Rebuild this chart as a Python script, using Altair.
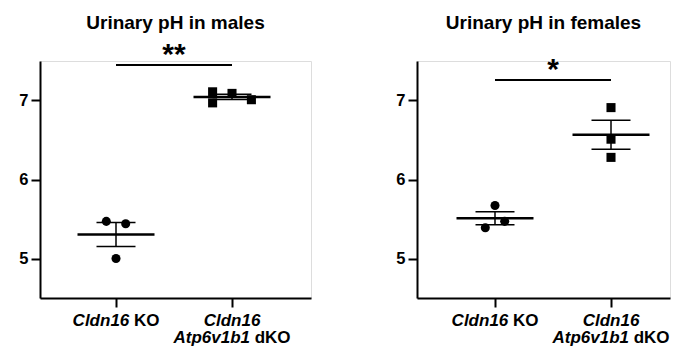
import altair as alt
import pandas as pd

FONT = "Liberation Sans, Arial, Helvetica, sans-serif"

groups = ["Cldn16 KO", "Cldn16 Atp6v1b1 dKO"]
group_pos = [1, 2]

male_ko = [5.47, 5.44, 5.00]
male_ko_slot = [-1, 1, 0]
male_dko = [7.11, 6.97, 7.09, 7.01]
male_dko_slot = [-2, -2, 0, 2]

female_ko = [5.39, 5.67, 5.47]
female_ko_slot = [-1, 0, 1]
female_dko = [6.91, 6.51, 6.28]
female_dko_slot = [0, 0, 0]

titles = ["Urinary pH in males", "Urinary pH in females"]
sig_labels = ["**", "*"]
sig_y = [7.45, 7.26]
y_ticks = [5, 6, 7]
y_domain = [4.5, 7.5]

# x-axis label pieces: (group position, line, text, italic, align, dx)
label_pieces = [
    (1, 1, "Cldn16", True, "right", 13.3),
    (1, 1, "KO", False, "left", 18),
    (2, 1, "Cldn16", True, "center", 0),
    (2, 2, "Atp6v1b1", True, "right", 18),
    (2, 2, "dKO", False, "left", 22.7),
]

PLOT_H = 237
SLOT = 0.0836


def panel(title, ko, ko_slot, dko, dko_slot, sig, sigy, width, xdom, title_offset):
    pts = pd.DataFrame({
        "pos": [group_pos[0]] * len(ko) + [group_pos[1]] * len(dko),
        "group": [groups[0]] * len(ko) + [groups[1]] * len(dko),
        "pH": ko + dko,
        "slot": ko_slot + dko_slot,
    })
    x_scale = alt.Scale(domain=xdom, nice=False, zero=False)
    y_scale = alt.Scale(domain=y_domain, nice=False, zero=False)
    x_axis = alt.Axis(values=group_pos, labels=False, tickSize=9, tickWidth=2,
                      domainWidth=2, domainColor="black", tickColor="black",
                      grid=False, title=None)
    y_axis = alt.Axis(values=y_ticks, tickSize=9, tickWidth=2, domainWidth=2,
                      domainColor="black", tickColor="black", grid=False,
                      title=None, labelFontSize=16.5, labelFontWeight="bold",
                      labelColor="black", labelFont=FONT, labelPadding=3)

    def X(f):
        return alt.X(f, type="quantitative", scale=x_scale, axis=x_axis)

    def Y(f):
        return alt.Y(f, type="quantitative", scale=y_scale, axis=y_axis)

    base = alt.Chart(pts)
    points = base.transform_calculate(
        xj=f"datum.pos + datum.slot * {SLOT}"
    ).mark_point(filled=True, opacity=1, color="black", size=82).encode(
        x=X("xj"), y=Y("pH"),
        shape=alt.Shape("group:N", scale=alt.Scale(domain=groups, range=["circle", "square"]), legend=None),
    )
    stats = base.transform_aggregate(
        mean="mean(pH)", sd="stdev(pH)", n="count()", groupby=["pos"]
    ).transform_calculate(
        lo="datum.mean - datum.sd / sqrt(datum.n)",
        hi="datum.mean + datum.sd / sqrt(datum.n)",
    )
    mean_tick = stats.mark_tick(orient="horizontal", size=77, thickness=2.5, color="black", opacity=1).encode(x=X("pos"), y=Y("mean"))
    cap_lo = stats.mark_tick(orient="horizontal", size=39, thickness=1.5, color="black", opacity=1).encode(x=X("pos"), y=Y("lo"))
    cap_hi = stats.mark_tick(orient="horizontal", size=39, thickness=1.5, color="black", opacity=1).encode(x=X("pos"), y=Y("hi"))
    stem = stats.mark_rule(strokeWidth=1.5, color="black").encode(x=X("pos"), y=Y("lo"), y2="hi:Q")

    sdf = pd.DataFrame({"x1": [group_pos[0]], "x2": [group_pos[1]], "y": [sigy], "label": [sig],
                        "xm": [(group_pos[0] + group_pos[1]) / 2]})
    sbar = alt.Chart(sdf).mark_rule(strokeWidth=2, color="black").encode(x=X("x1"), x2="x2:Q", y=Y("y"))
    stext = alt.Chart(sdf).mark_text(font=FONT, fontSize=30, fontWeight="bold", color="black",
                                     baseline="alphabetic", align="center", dy=-1).encode(
        x=X("xm"), y=Y("y"), text="label:N")

    layers = [stem, cap_lo, cap_hi, mean_tick, points, sbar, stext]
    for (p, line, txt, italic, align, dx) in label_pieces:
        ldf = pd.DataFrame({"pos": [p], "t": [txt]})
        layers.append(
            alt.Chart(ldf).mark_text(font=FONT, fontSize=17, fontWeight="bold",
                                     fontStyle="italic" if italic else "normal",
                                     color="black", align=align, baseline="alphabetic", dx=dx).encode(
                x=X("pos"), y=alt.value(PLOT_H + 28 if line == 1 else PLOT_H + 45), text="t:N")
        )
    return alt.layer(*layers).properties(
        width=width, height=PLOT_H,
        title=alt.TitleParams(title, font=FONT, fontSize=19, fontWeight="bold", color="black",
                              anchor="middle", frame="group", offset=title_offset),
    )


left = panel(titles[0], male_ko, male_ko_slot, male_dko, male_dko_slot, sig_labels[0], sig_y[0],
             271, [0.3448, 2.681], 7)
right = panel(titles[1], female_ko, female_ko_slot, female_dko, female_dko_slot, sig_labels[1], sig_y[1],
              253, [0.3276, 2.5086], 22)

chart = alt.hconcat(left, right, spacing=83).properties(
    padding={"left": 10, "top": 5, "right": 0, "bottom": 0}
).configure_view(stroke=None).configure(background="white")

chart.save("out.html", embed_options={"renderer": "svg", "actions": False})
